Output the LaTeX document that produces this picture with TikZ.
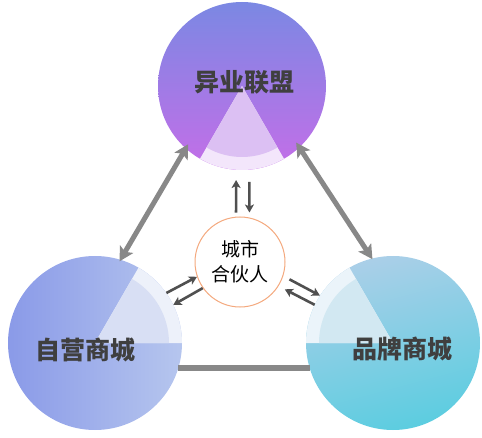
\documentclass[tikz,border=0pt]{standalone}
\usepackage{fontspec}
\newfontfamily\cjk{Noto Sans CJK SC}
\usetikzlibrary{calc,arrows.meta}
\definecolor{ylTop}{HTML}{7B88E3}
\definecolor{ylBot}{HTML}{C46EE8}
\definecolor{ylIn}{HTML}{DCC0F3}
\definecolor{ylOut}{HTML}{F3E6FB}
\definecolor{zyLeft}{HTML}{8A9AE8}
\definecolor{zyRight}{HTML}{B6C6EE}
\definecolor{zyIn}{HTML}{D8DFF4}
\definecolor{zyOut}{HTML}{EDF1FA}
\definecolor{ppTop}{HTML}{AACFE8}
\definecolor{ppBot}{HTML}{5CCDE0}
\definecolor{ppIn}{HTML}{D2E8F2}
\definecolor{ppOut}{HTML}{EBF4FA}
\definecolor{csEdge}{HTML}{F4A97E}
\definecolor{labelGray}{HTML}{3F3F3F}
\definecolor{bigGray}{HTML}{888888}
\definecolor{smallGray}{HTML}{505050}

\begin{document}
\begin{tikzpicture}[x=1pt, y=1pt,
  bigcircle/.style={circle, inner sep=0pt, minimum size=#1},
  bigtext/.style={font=\cjk\bfseries\fontsize{25}{30}\selectfont, text=labelGray},
  bigarrow/.style={bigGray, line width=5pt, {Stealth[length=14pt,width=15pt,inset=3pt]}-{Stealth[length=14pt,width=15pt,inset=3pt]}},
  bigline/.style={bigGray, line width=6pt},
  smallarrow/.style={smallGray, line width=2.6pt, -{Stealth[length=8pt,width=9pt,inset=2pt]}}]
  \useasboundingbox (0,0) rectangle (482,437);

  \node[bigcircle=168pt, top color=ylTop, bottom color=ylBot] (yl) at (242,351) {};
  \node[bigcircle=174pt, left color=zyLeft, right color=zyRight] (zy) at (95,94) {};
  \node[bigcircle=174pt, top color=ppTop, bottom color=ppBot, shading angle=15] (pp) at (393,94) {};

  \fill[ylOut] (yl.center) -- ++(240:84) arc[start angle=240, end angle=300, radius=84] -- cycle;
  \fill[ylIn] (yl.center) -- ++(240:71) arc[start angle=240, end angle=300, radius=71] -- cycle;
  \fill[zyOut] (zy.center) -- ++(0:87) arc[start angle=0, end angle=60, radius=87] -- cycle;
  \fill[zyIn] (zy.center) -- ++(0:74) arc[start angle=0, end angle=60, radius=74] -- cycle;
  \fill[ppOut] (pp.center) -- ++(120:87) arc[start angle=120, end angle=180, radius=87] -- cycle;
  \fill[ppIn] (pp.center) -- ++(120:74) arc[start angle=120, end angle=180, radius=74] -- cycle;

  \node[bigtext] (ylText) at ([shift={(2,4)}]yl.center) {异业联盟};
  \node[bigtext] (zyText) at ([shift={(-10,-7)}]zy.center) {自营商城};
  \node[bigtext] (ppText) at ([shift={(9,-6)}]pp.center) {品牌商城};

  \node[circle, draw=csEdge, line width=1pt, fill=white, minimum size=90pt, inner sep=0pt,
    align=center, font=\cjk\fontsize{19}{25}\selectfont] (cs) at (240,175) {城市\\合伙人};

  \draw[bigarrow, shorten <=-5pt, shorten >=-2pt] (yl.228) -- (zy.73);
  \draw[bigarrow, shorten <=-6pt, shorten >=-1pt] (yl.313) -- (pp.104);
  \draw[bigline] (zy.343) -- (pp.197);

  \draw[smallarrow, shorten <=4pt, shorten >=10pt] (cs.95) -- (yl.266);
  \draw[smallarrow, shorten <=12pt, shorten >=5pt] (yl.275) -- (cs.78);
  \draw[smallarrow] (zy.35) -- (cs.199);
  \draw[smallarrow] (cs.215) -- (zy.26);
  \draw[smallarrow, shorten <=7pt] (cs.342) -- (pp.147);
  \draw[smallarrow, shorten >=7pt] (pp.154) -- (cs.328);
\end{tikzpicture}
\end{document}
